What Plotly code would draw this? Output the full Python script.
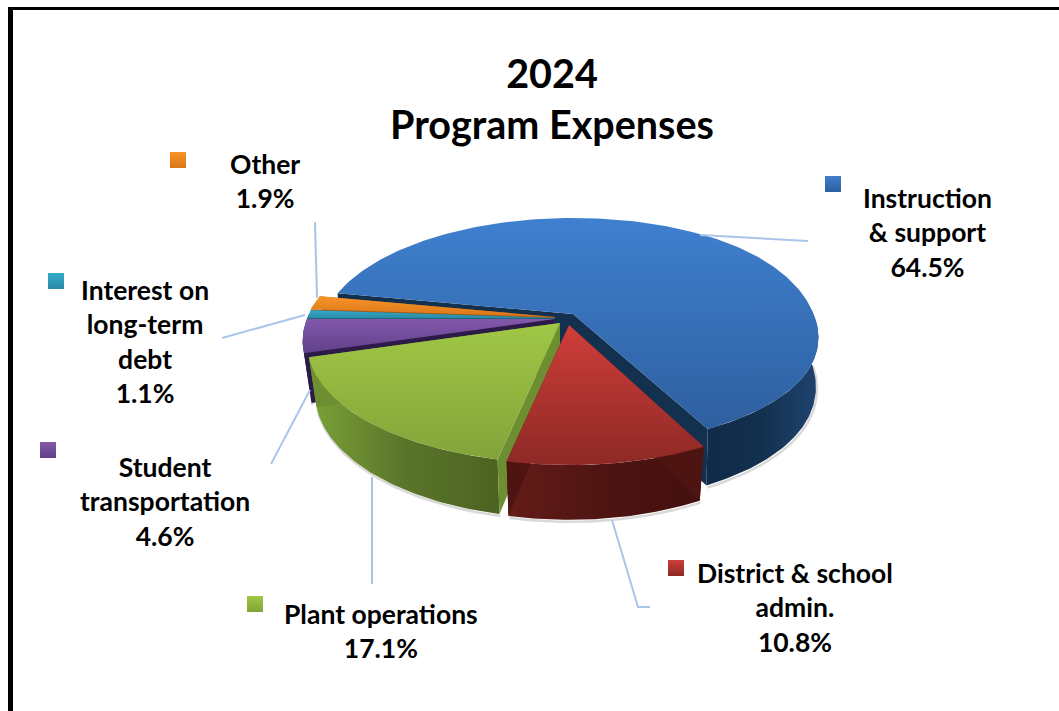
import numpy as np
import plotly.graph_objects as go

# ---- data ----
categories = ["Instruction<br>& support", "District & school<br>admin.", "Plant operations",
              "Student<br>transportation", "Interest on<br>long-term<br>debt", "Other"]
shares = [64.5, 10.8, 17.1, 4.6, 1.1, 1.9]
title_lines = ["2024", "Program Expenses"]

# ---- styles and layout (pixel space of the page) ----
W, H = 1059, 711
RX, RY, PERSP, DEPTH, SQUEEZE = 248, 114, 0.186, 48, 0.03
BOTTOM = [0.99, 0.97, 0.97, 0.97, 0.97, 0.97]
FRONT_Y = [0.945, 1, 1, 1, 1, 1]
START_ANGLE = 63  # clockwise from 3 o'clock, where the first slice ends
apex = [(573, 314), (569, 325), (560, 323), (555, 319), (555, 318), (555, 317)]
top_cols = [("#3f80cf", "#2e5f9f"), ("#cf3e3a", "#8e2925"), ("#a0c746", "#83a339"),
            ("#8358ab", "#60408a"), ("#35abc9", "#2a8aa6"), ("#f99426", "#d9761a")]
wall_cols = [("#102a4a", "#13304f", "#1f4470"), ("#641c18", "#4e1412", "#431010"),
             ("#7ba237", "#5a752a", "#4c6321"), ("#2c1a48", "#2c1a48", "#2c1a48"),
             ("#1d6a80", "#1d6a80", "#1d6a80"), ("#a85a14", "#a85a14", "#a85a14")]
cut_cols = ["#14304f", "#4e1412", "#6d8e31", "#2c1a48", "#1d6a80", "#a85a14"]
key_pos = [(833, 184), (676, 568), (255, 604), (48, 450), (56, 281), (178, 160)]
label_pos = [(927, 232), (795, 607), (381, 631), (165, 501), (145, 341), (265, 181)]
leaders = [([700, 808], [235, 241]), ([612, 638, 650], [520, 607, 607]), ([372, 372], [477, 584]),
           ([310, 271], [390, 464]), ([305, 222], [315, 338]), ([315, 317], [222, 298])]
LEADER = "#a9c6ea"
FONT = "Lato, Carlito, 'Open Sans', sans-serif"


def rim(deg, i, bottom=False):
    ax, ay = apex[i]
    t = np.radians(deg)
    c, s = np.cos(t), np.sin(t)
    p = 1 / (1 - PERSP * s)
    f = BOTTOM[i] if bottom else 1.0
    squeeze = 1 - SQUEEZE * np.maximum(c, 0) ** 4
    front = np.where(s > 0, FRONT_Y[i], 1.0)
    return ax + RX * c * p * f * squeeze, ay + RY * s * p * f * front + (DEPTH * p if bottom else 0)


def poly(xs, ys, colors, kind):
    stops = np.linspace(0, 1, len(colors))
    return go.Scatter(x=list(xs), y=list(ys), mode="lines", fill="toself", line=dict(width=0),
                      fillgradient=dict(type=kind, colorscale=[[float(a), b] for a, b in zip(stops, colors)]),
                      hoverinfo="skip", showlegend=False)


# angular extent of each slice, driven by the shares
sweeps = [v / sum(shares) * 360 for v in shares]
ranges = {}
cur = START_ANGLE
for i in [1, 2, 3, 4, 5, 0]:
    ranges[i] = (cur, cur + sweeps[i])
    cur += sweeps[i]

fig = go.Figure()
for i in [0, 5, 4, 3, 2, 1]:  # back to front
    a, b = ranges[i]
    ax, ay = apex[i]
    ts = np.arange(a, b + 0.5, 1.0)
    ts = np.append(ts[ts < b], b)
    # visible outer wall
    vis = ts[np.sin(np.radians(ts)) >= 0]
    if len(vis) > 1:
        bx, by = rim(vis, i, True)
        fig.add_trace(go.Scatter(x=bx + 1, y=by + 2, mode="lines", hoverinfo="skip", showlegend=False,
                                 line=dict(color="rgba(130,130,130,0.3)", width=2.5)))
        tx, ty = rim(vis, i)
        fig.add_trace(poly(np.r_[tx, bx[::-1]], np.r_[ty, by[::-1]], wall_cols[i], "horizontal"))
    # cut faces
    for e in (a, b):
        ex, ey = rim(e, i)
        fx, fy = rim(e, i, True)
        fig.add_trace(go.Scatter(x=[ax, ex, fx, ax, ax], y=[ay, ey, fy, ay + DEPTH, ay], mode="lines",
                                 fill="toself", fillcolor=cut_cols[i], line=dict(width=0),
                                 hoverinfo="skip", showlegend=False))
    # top surface (y axis runs downward, so the gradient stops are given bottom-first)
    rx, ry = rim(ts, i)
    fig.add_trace(poly(np.r_[ax, rx, ax], np.r_[ay, ry, ay], top_cols[i][::-1], "vertical"))

for xs, ys in leaders:
    fig.add_trace(go.Scatter(x=xs, y=ys, mode="lines", line=dict(color=LEADER, width=2),
                             hoverinfo="skip", showlegend=False))

for i, (kx, ky) in enumerate(key_pos):
    fig.add_trace(go.Scatter(x=[kx], y=[ky], mode="markers", hoverinfo="skip", showlegend=False,
                             marker=dict(symbol="square", size=16, color=top_cols[i][0], line=dict(width=0),
                                         gradient=dict(type="vertical", color=top_cols[i][1]))))

for i, (lx, ly) in enumerate(label_pos):
    fig.add_annotation(x=lx, y=ly, xref="x", yref="y", showarrow=False, align="center",
                       text=f"<b>{categories[i]}<br>{shares[i]:.1f}%</b>",
                       font=dict(family=FONT, size=26.5, color="#000000"))

fig.update_layout(
    width=W, height=H, margin=dict(l=0, r=0, t=0, b=0), paper_bgcolor="white", plot_bgcolor="white",
    title=dict(text="<b>" + "<br>".join(title_lines) + "</b>", x=552 / W, xanchor="center", y=1 - 88 / H,
               yanchor="middle", font=dict(family=FONT, size=39.5, color="#000000")),
    xaxis=dict(range=[0, W], visible=False, fixedrange=True),
    yaxis=dict(range=[H, 0], visible=False, fixedrange=True),
    shapes=[dict(type="rect", xref="x", yref="y", x0=8, x1=13, y0=7, y1=H, fillcolor="black", line=dict(width=0)),
            dict(type="rect", xref="x", yref="y", x0=8, x1=W, y0=7, y1=10, fillcolor="black", line=dict(width=0))],
)
fig.write_html("out.html", config=dict(displayModeBar=False),
               post_script="document.body.style.margin='0';")
